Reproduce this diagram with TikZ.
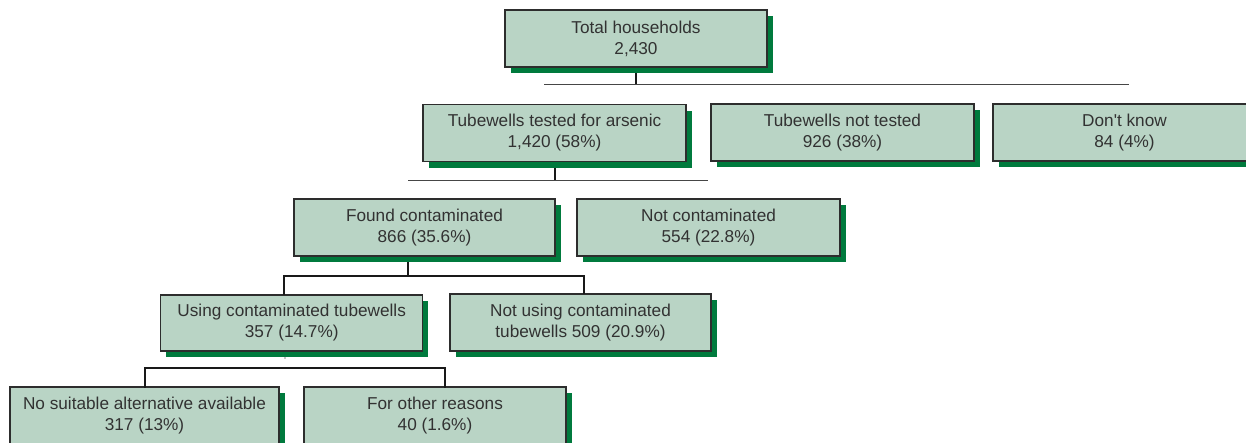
\documentclass[tikz,border=0pt]{standalone}
\usepackage{fontspec}
\setmainfont{Liberation Sans}
\usetikzlibrary{shadows}
\definecolor{boxfill}{RGB}{185,212,197}
\definecolor{shadowgreen}{RGB}{0,122,61}
\definecolor{boxline}{RGB}{45,45,45}
\definecolor{txt}{RGB}{50,50,50}
\definecolor{thinline}{RGB}{70,70,70}
\tikzset{
  tbox/.style={draw=boxline, line width=1.1pt, fill=boxfill, text=txt,
    minimum height=57pt, inner sep=0pt, align=center,
    font=\fontsize{17.2}{21}\selectfont,
    drop shadow={shadow xshift=5.5pt, shadow yshift=-6pt, fill=shadowgreen, opacity=1}},
  stem/.style={draw=black!90, line width=2pt},
  bar/.style={draw=thinline, line width=0.9pt},
  elbow/.style={draw=black!90, line width=2pt},
}
\begin{document}
\begin{tikzpicture}[x=1pt,y=-1pt]
\useasboundingbox (0,0) rectangle (1246,442);
\clip (0,0) rectangle (1246,442);
\fill[white] (0,0) rectangle (1246,442);

% connectors first
\coordinate (s1a) at (636,67);
\coordinate (s1b) at (636,84);
\coordinate (b1l) at (544,84);
\coordinate (b1r) at (1129,84);
\draw[stem] (s1a) -- (s1b);
\draw[bar] (b1l) -- (b1r);

\coordinate (s2a) at (555,162);
\coordinate (s2b) at (555,180);
\coordinate (b2l) at (408,180);
\coordinate (b2r) at (708,180);
\draw[stem] (s2a) -- (s2b);
\draw[bar] (b2l) -- (b2r);

% nodes
\node[tbox, minimum width=262pt] (total) at (636,38.5) {Total households\\2,430};
\node[tbox, minimum width=263pt] (tested) at (554.5,133) {Tubewells tested for arsenic\\1,420 (58\%)};
\node[tbox, minimum width=263pt] (nottested) at (842.5,132.5) {Tubewells not tested\\926 (38\%)};
\node[tbox, minimum width=263pt] (dk) at (1124.5,132.5) {Don\textquotesingle t know\\84 (4\%)};

\node[tbox, minimum width=261pt] (found) at (424.5,227.5) {Found contaminated\\866 (35.6\%)};
\node[tbox, minimum width=263pt] (notcont) at (708.5,227.5) {Not contaminated\\554 (22.8\%)};

\node[tbox, minimum width=262pt, minimum height=56pt] (using) at (291.7,323) {Using contaminated tubewells\\357 (14.7\%)};
\node[tbox, minimum width=261pt, minimum height=57pt] (notusing) at (580.5,322.5) {Not using contaminated\\tubewells 509 (20.9\%)};

\node[tbox, minimum width=269pt] (nosuit) at (144.5,415.5) {No suitable alternative available\\317 (13\%)};
\node[tbox, minimum width=262pt] (other) at (435,415.5) {For other reasons\\40 (1.6\%)};

% elbow connectors
\coordinate (j3) at (408,275.5);
\coordinate (j3s) at (408,262);
\coordinate (d4l) at (284,294.5);
\coordinate (d4r) at (584,294);
\draw[elbow] (j3s) -- (j3);
\draw[elbow] (d4l) |- (j3) -| (d4r);

\coordinate (j5l) at (145,368);
\coordinate (j5r) at (444.5,368);
\coordinate (d5l) at (145,387.5);
\coordinate (d5r) at (444.5,387.5);
\draw[elbow] (d5l) -- (j5l) -- (j5r) -- (d5r);
\fill[black] (285,358) circle (0.6pt);
\end{tikzpicture}
\end{document}
